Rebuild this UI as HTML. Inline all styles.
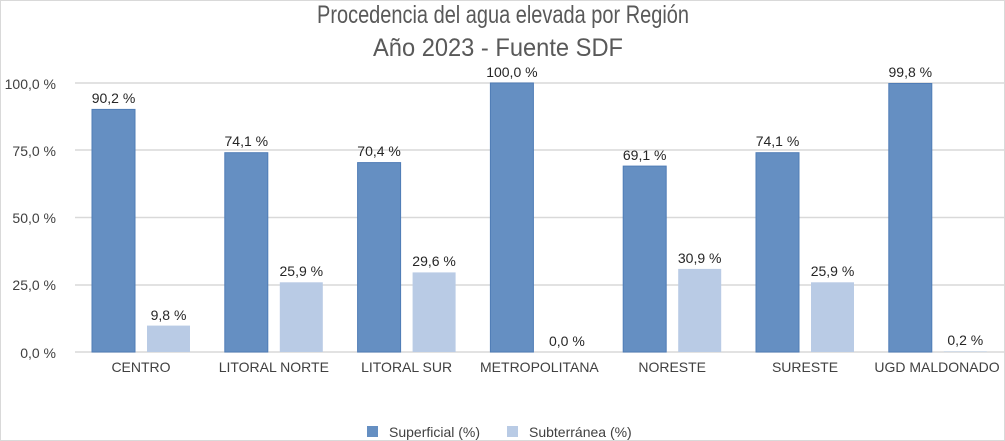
<!DOCTYPE html>
<html><head><meta charset="utf-8"><style>
html,body{margin:0;padding:0;background:#fff;}
svg{display:block;font-family:"Liberation Sans",sans-serif;}
</style></head><body>
<svg width="1005" height="441" viewBox="0 0 1005 441" xmlns="http://www.w3.org/2000/svg">
<rect x="0.5" y="0.5" width="1004" height="440" fill="#fff" stroke="#d9d9d9"/>
<g fill="#595959" font-size="25" text-anchor="middle">
<text x="503" y="23" textLength="372" lengthAdjust="spacingAndGlyphs">Procedencia del agua elevada por Región</text>
<text x="498" y="56" textLength="250" lengthAdjust="spacingAndGlyphs">Año 2023 - Fuente SDF</text>
</g>
<g stroke="#d9d9d9" stroke-width="1.5">
<line x1="75" x2="1005" y1="83" y2="83"/>
<line x1="75" x2="1005" y1="150" y2="150"/>
<line x1="75" x2="1005" y1="217.5" y2="217.5"/>
<line x1="75" x2="1005" y1="285" y2="285"/>
<line x1="75" x2="1005" y1="352" y2="352"/>
</g>
<g fill="#404040" font-size="14" text-anchor="end">
<text x="56" y="89">100,0 %</text>
<text x="56" y="156">75,0 %</text>
<text x="56" y="223">50,0 %</text>
<text x="56" y="290">25,0 %</text>
<text x="56" y="358">0,0 %</text>
</g>
<g fill="#658fc2" stroke="#4f7cb6" stroke-width="1">
<rect x="92" y="109.4" width="43" height="242.6"/>
<rect x="224.8" y="152.7" width="43" height="199.3"/>
<rect x="357.6" y="162.6" width="43" height="189.4"/>
<rect x="490.4" y="83" width="43" height="269"/>
<rect x="623.2" y="166.1" width="43" height="185.9"/>
<rect x="756" y="152.7" width="43" height="199.3"/>
<rect x="888.8" y="83.5" width="43" height="268.5"/>
</g>
<g fill="#b9cbe5">
<rect x="147" y="325.6" width="43" height="26.4"/>
<rect x="279.8" y="282.3" width="43" height="69.7"/>
<rect x="412.6" y="272.4" width="43" height="79.6"/>
<rect x="678.2" y="268.9" width="43" height="83.1"/>
<rect x="811" y="282.3" width="43" height="69.7"/>
<rect x="943.8" y="351.5" width="43" height="0.5"/>
</g>
<g fill="#262626" font-size="14" text-anchor="middle">
<text x="113.5" y="103">90,2 %</text>
<text x="168.5" y="320">9,8 %</text>
<text x="246.3" y="146">74,1 %</text>
<text x="301.3" y="276">25,9 %</text>
<text x="379.1" y="156">70,4 %</text>
<text x="434.1" y="266">29,6 %</text>
<text x="511.9" y="77">100,0 %</text>
<text x="566.9" y="346">0,0 %</text>
<text x="644.7" y="160">69,1 %</text>
<text x="699.7" y="263">30,9 %</text>
<text x="777.5" y="146">74,1 %</text>
<text x="832.5" y="276">25,9 %</text>
<text x="910.3" y="77">99,8 %</text>
<text x="965.3" y="345">0,2 %</text>
</g>
<g fill="#404040" font-size="14" text-anchor="middle">
<text x="141" y="372">CENTRO</text>
<text x="273.8" y="372">LITORAL NORTE</text>
<text x="406.6" y="372">LITORAL SUR</text>
<text x="539.4" y="372">METROPOLITANA</text>
<text x="672.2" y="372">NORESTE</text>
<text x="805" y="372">SURESTE</text>
<text x="937" y="372">UGD MALDONADO</text>
</g>
<rect x="367" y="426" width="11" height="11" fill="#658fc2"/>
<text x="389" y="437" font-size="14" fill="#404040">Superficial (%)</text>
<rect x="507" y="426" width="11" height="11" fill="#b9cbe5"/>
<text x="529" y="437" font-size="14" fill="#404040">Subterránea (%)</text>
</svg>
</body></html>
